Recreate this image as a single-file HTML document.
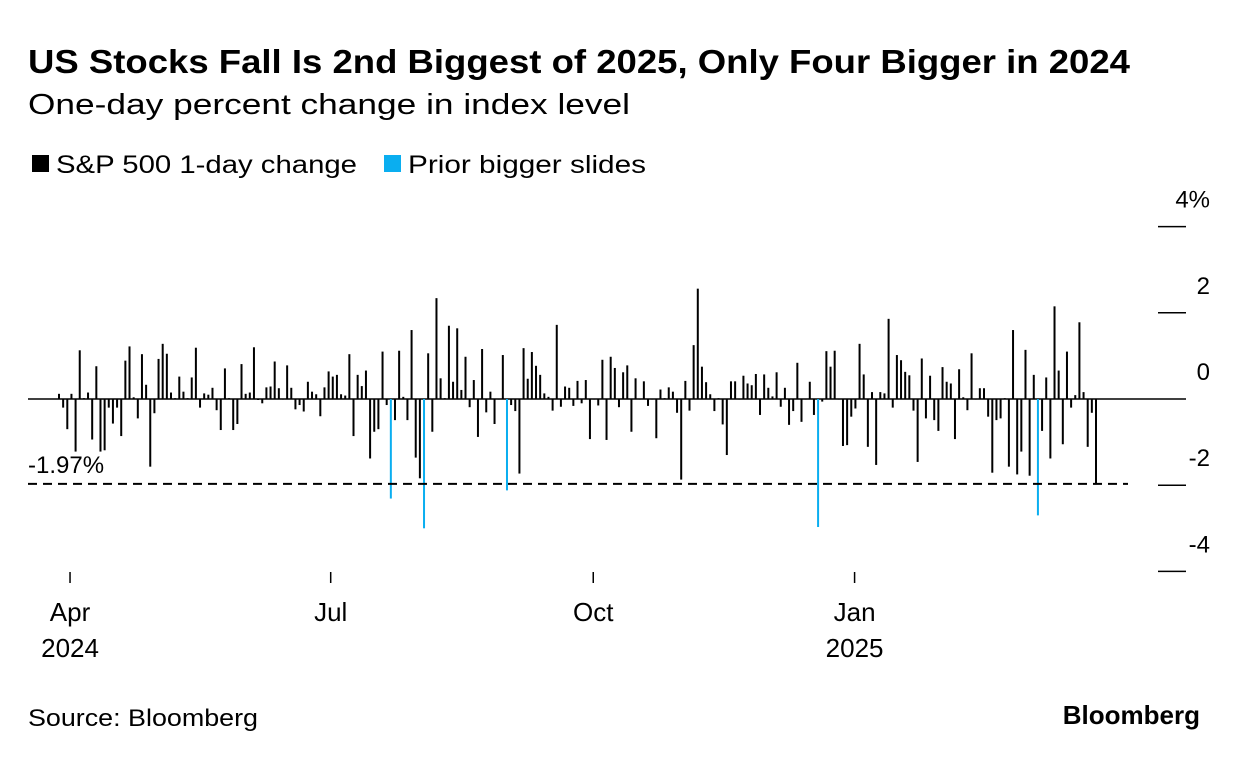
<!DOCTYPE html>
<html><head><meta charset="utf-8"><style>
body{margin:0;background:#fff;font-family:"Liberation Sans",Arial,sans-serif;}
#wrap{position:relative;width:1240px;height:758px;overflow:hidden;}
</style></head><body>
<div id="wrap">
<svg id="chart" width="1240" height="758" xmlns="http://www.w3.org/2000/svg">
<text x="28" y="73" font-size="33" font-weight="bold" fill="#000" textLength="1102" lengthAdjust="spacingAndGlyphs">US Stocks Fall Is 2nd Biggest of 2025, Only Four Bigger in 2024</text>
<text x="28" y="114" font-size="29" fill="#000" textLength="602" lengthAdjust="spacingAndGlyphs">One-day percent change in index level</text>
<g>
<rect x="32" y="155" width="17" height="17" fill="#000"/>
<text x="56" y="173" font-size="25" fill="#000" textLength="301" lengthAdjust="spacingAndGlyphs">S&amp;P 500 1-day change</text>
<rect x="384" y="155" width="17" height="17" fill="#0aaef0"/>
<text x="408" y="173" font-size="25" fill="#000" textLength="238" lengthAdjust="spacingAndGlyphs">Prior bigger slides</text>
</g>
<g id="yaxis"></g>
<g id="xaxis"></g>
<g id="bars"></g>
<g id="ref"></g>
<text x="28" y="726" font-size="24" fill="#000" textLength="230" lengthAdjust="spacingAndGlyphs">Source: Bloomberg</text>
<text x="1200" y="724" font-size="26" font-weight="bold" text-anchor="end" fill="#000">Bloomberg</text>
</svg>
</div>
<script>
const values = [
0.12,-0.2,-0.7,0.12,-1.22,1.13,0.02,0.15,-0.94,0.76,-1.22,-1.19,-0.2,-0.57,-0.2,-0.86,0.89,1.22,0.04,-0.45,1.04,0.33,-1.57,-0.33,0.93,1.28,1.05,0.15,0.02,0.52,0.17,0.02,0.5,1.19,-0.2,0.13,0.1,0.26,-0.26,-0.72,0.71,
0.02,-0.72,-0.58,0.81,0.12,0.15,1.2,-0.02,-0.1,0.27,0.29,0.87,0.25,0.01,0.78,0.26,-0.24,-0.14,-0.29,0.4,0.17,0.11,-0.4,0.27,0.64,0.52,0.56,0.11,0.08,1.04,-0.86,0.56,0.3,0.66,-1.38,-0.76,-0.7,1.1,-0.14,-2.31,-0.49,1.12,0.05,
-0.49,1.6,-1.36,-1.84,-3.0,1.06,-0.76,2.34,0.48,0.02,1.7,0.4,1.64,0.21,0.98,-0.19,0.44,-0.88,1.16,-0.31,0.17,-0.58,0.01,1.02,-2.12,-0.14,-0.28,-1.73,1.18,0.47,1.09,0.77,0.56,0.13,0.05,-0.27,1.72,-0.18,0.29,0.26,-0.16,0.42,
-0.1,0.44,-0.93,0.01,-0.15,0.91,-0.95,0.98,0.72,-0.19,0.62,0.78,-0.76,0.48,0.01,0.41,-0.16,0.01,-0.91,0.22,0.02,0.27,0.17,-0.32,-1.87,0.42,-0.27,1.25,2.56,0.75,0.39,0.11,-0.28,0.02,-0.59,-1.3,0.41,0.41,0.01,0.54,0.36,0.32,
0.58,-0.37,0.57,0.26,0.06,0.62,-0.18,0.26,-0.6,-0.28,0.84,-0.53,0.01,0.4,-0.37,-2.97,-0.06,1.11,0.75,1.12,0.01,-1.09,-1.07,-0.41,-0.22,1.28,0.57,-1.11,0.16,-1.53,0.16,0.13,1.86,-0.2,1.02,0.9,0.63,0.55,-0.27,-1.46,0.94,-0.45,
0.54,-0.49,-0.74,0.74,0.4,0.36,-0.93,0.69,0.04,-0.26,1.06,0.01,0.25,0.25,-0.41,-1.71,-0.49,-0.45,0.02,-1.57,1.6,-1.75,-1.22,1.14,-1.78,0.56,-2.7,-0.74,0.5,-1.38,2.15,0.66,-1.05,1.1,-0.2,0.09,1.78,0.16,-1.11,-0.32,-1.97
];
const yTicks = [4,2,0,-2,-4];
const yTickLabels = ["4%","2","0","-2","-4"];
const xTickIdx = [2.66,65.5,128.8,191.8];
const xTickLabels = ["Apr","Jul","Oct","Jan"];
const xTickYears = ["2024","","","2025"];
const NS="http://www.w3.org/2000/svg";
const y0=399, pxPer=43.1;
const yS=v=>y0-v*pxPer;
const n=values.length;
const xS=i=>59+i*(1096-59)/(n-1);
function mk(tag,attrs,parent){const e=document.createElementNS(NS,tag);for(const k in attrs)e.setAttribute(k,attrs[k]);parent.appendChild(e);return e;}
const ya=document.getElementById('yaxis');
yTicks.forEach((t,i)=>{
 if(t!==0){const l=mk('line',{x1:1158,x2:1186,y1:yS(t),y2:yS(t),stroke:'#000','stroke-width':1.5},ya);
 
 }
 const tx=mk('text',{x:1210,y:yS(t)-19,'font-size':24,'text-anchor':'end',fill:'#000'},ya);
 tx.textContent=yTickLabels[i];
 
 
});
const zl=mk('line',{x1:28,x2:1186,y1:y0,y2:y0,stroke:'#000','stroke-width':1.5},ya);


const xa=document.getElementById('xaxis');
xTickIdx.forEach((ix,i)=>{
 const x=xS(ix);
 const l=mk('line',{x1:x,x2:x,y1:572,y2:583,stroke:'#000','stroke-width':1.5},xa);
 
 
 const t=mk('text',{x:x,y:621,'font-size':26,'text-anchor':'middle',fill:'#000'},xa);
 t.textContent=xTickLabels[i];
 
 
 if(xTickYears[i]){const t2=mk('text',{x:x,y:657,'font-size':26,'text-anchor':'middle',fill:'#000'},xa);
 t2.textContent=xTickYears[i];
 
 }
});
const bg=document.getElementById('bars');
const last=values[n-1];
values.forEach((v,i)=>{
 const x=xS(i);
 const top=Math.min(yS(v),y0), h=Math.max(Math.abs(yS(v)-y0),1);
 const r=mk('rect',{x:x-1,y:top,width:2,height:h,fill:(v<last&&i<n-1)?'#0aaef0':'#000'},bg);
 
 
});
const rg=document.getElementById('ref');
const dl=mk('line',{x1:28,x2:1128,y1:yS(last),y2:yS(last),stroke:'#000','stroke-width':2,'stroke-dasharray':'9,6'},rg);


const rl=mk('text',{x:28,y:yS(last)-11,'font-size':24,fill:'#000'},rg);
rl.textContent=last.toFixed(2)+'%';


</script>
</body></html>
